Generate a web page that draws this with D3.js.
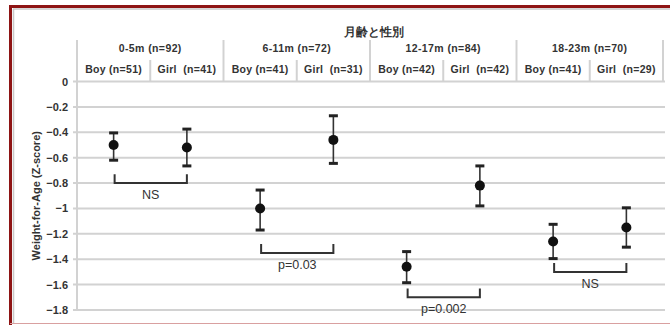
<!DOCTYPE html>
<html><head><meta charset="utf-8">
<script src="https://cdn.jsdelivr.net/npm/d3@7"></script>
<style>
html,body{margin:0;padding:0;background:#fff;}
svg{display:block;}
text{font-family:"Liberation Sans",Arial,sans-serif;}
</style></head>
<body>
<svg id="c" width="670" height="325"></svg>
<script>
const title = "月齢と性別";
const groups = ["0-5m (n=92)", "6-11m (n=72)", "12-17m (n=84)", "18-23m (n=70)"];
const subLabels = [["Boy (n=51)", "Girl  (n=41)"], ["Boy (n=41)", "Girl  (n=31)"], ["Boy (n=42)", "Girl  (n=42)"], ["Boy (n=41)", "Girl  (n=29)"]];
const sexes = ["Boy", "Girl"];
const means = [[-0.50, -0.52], [-1.00, -0.46], [-1.46, -0.82], [-1.26, -1.15]];
const lowers = [[-0.62, -0.665], [-1.17, -0.645], [-1.585, -0.98], [-1.395, -1.305]];
const uppers = [[-0.405, -0.375], [-0.855, -0.27], [-1.34, -0.665], [-1.125, -0.995]];
const bracketBase = [-0.80, -1.35, -1.70, -1.50];
const bracketTop = [-0.73, -1.28, -1.63, -1.43];
const bracketLabelY = [-0.89, -1.44, -1.79, -1.59];
const bracketLabels = ["NS", "p=0.03", "p=0.002", "NS"];
const yTicks = [0, -0.2, -0.4, -0.6, -0.8, -1, -1.2, -1.4, -1.6, -1.8];
const yTitle = "Weight-for-Age (Z-score)";

const svg = d3.select("#c");
const L = 77, R = 663, T = 81.5, B = 310;

const x = d3.scaleBand().domain(groups).range([L, R]).paddingInner(0).paddingOuter(0);
const xs = d3.scaleBand().domain(sexes).range([0, x.bandwidth()]);
const y = d3.scaleLinear().domain([-1.8, 0]).range([B, T]);

// frame
svg.append("line").attr("x1", 13).attr("x2", 670).attr("y1", 9).attr("y2", 9).attr("stroke", "#c8c8c8").attr("stroke-width", 1.5);
svg.append("line").attr("x1", 13.5).attr("x2", 13.5).attr("y1", 9).attr("y2", 323).attr("stroke", "#c8c8c8").attr("stroke-width", 1.5);
svg.append("line").attr("x1", 9).attr("x2", 670).attr("y1", 6.5).attr("y2", 6.5).attr("stroke", "#8e1414").attr("stroke-width", 3);
svg.append("line").attr("x1", 10.5).attr("x2", 10.5).attr("y1", 5).attr("y2", 325).attr("stroke", "#8e1414").attr("stroke-width", 3);
svg.append("line").attr("x1", 10).attr("x2", 670).attr("y1", 323.5).attr("y2", 323.5).attr("stroke", "#d9a0a0").attr("stroke-width", 1);

// gridlines
svg.append("g").selectAll("line").data(yTicks).join("line")
  .attr("x1", L - 4).attr("x2", R + 2)
  .attr("y1", d => y(d)).attr("y2", d => y(d))
  .attr("stroke", "#d2d2d2").attr("stroke-width", 2);

// y axis
const yAxis = svg.append("g").attr("transform", `translate(${L},0)`)
  .call(d3.axisLeft(y).tickValues(yTicks).tickSize(0).tickPadding(9).tickFormat(d => d3.format("")(d)));
yAxis.select(".domain").remove();
yAxis.selectAll("text").attr("font-size", 11).attr("font-weight", "bold").attr("fill", "#333");
svg.append("line").attr("x1", L).attr("x2", L).attr("y1", 40).attr("y2", B)
  .attr("stroke", "#d2d2d2").attr("stroke-width", 2);

// y title
svg.append("text").attr("transform", `translate(40,${(T + B) / 2}) rotate(-90)`)
  .attr("text-anchor", "middle").attr("font-size", 11).attr("font-weight", "bold").attr("fill", "#333")
  .text(yTitle);

// header
svg.append("text").attr("x", (L + R) / 2 + 4).attr("y", 36).attr("text-anchor", "middle")
  .attr("font-size", 11.5).attr("font-weight", "bold").attr("fill", "#333").text(title);
const hdr = svg.append("g");
hdr.selectAll("line.g").data(groups.concat(["end"])).join("line").attr("class", "g")
  .attr("x1", d => d === "end" ? R : x(d)).attr("x2", d => d === "end" ? R : x(d))
  .attr("y1", 40).attr("y2", T).attr("stroke", "#d2d2d2").attr("stroke-width", 2);
hdr.selectAll("text.g").data(groups).join("text").attr("class", "g")
  .attr("x", d => x(d) + x.bandwidth() / 2).attr("y", 52).attr("text-anchor", "middle")
  .attr("font-size", 10.5).attr("letter-spacing", 0.4).attr("font-weight", "bold").attr("fill", "#333").text(d => d);
groups.forEach((g, gi) => {
  hdr.append("line").attr("x1", x(g) + xs.bandwidth()).attr("x2", x(g) + xs.bandwidth())
    .attr("y1", 60).attr("y2", T).attr("stroke", "#d2d2d2").attr("stroke-width", 2);
  sexes.forEach((s, si) => {
    hdr.append("text").attr("x", x(g) + xs(s) + xs.bandwidth() / 2).attr("y", 73)
      .attr("text-anchor", "middle").attr("font-size", 10.5).attr("letter-spacing", 0.3).attr("font-weight", "bold")
      .attr("fill", "#333").style("white-space", "pre").text(subLabels[gi][si]);
  });
});

// points & error bars
const pts = [];
groups.forEach((g, gi) => sexes.forEach((s, si) => pts.push({
  cx: x(g) + xs(s) + xs.bandwidth() / 2, m: means[gi][si], lo: lowers[gi][si], hi: uppers[gi][si]
})));
const eb = svg.append("g");
eb.selectAll("line.v").data(pts).join("line").attr("class", "v")
  .attr("x1", d => d.cx).attr("x2", d => d.cx).attr("y1", d => y(d.lo)).attr("y2", d => y(d.hi))
  .attr("stroke", "#333").attr("stroke-width", 1.6);
eb.selectAll("line.lo").data(pts).join("line").attr("class", "lo")
  .attr("x1", d => d.cx - 4.5).attr("x2", d => d.cx + 4.5).attr("y1", d => y(d.lo)).attr("y2", d => y(d.lo))
  .attr("stroke", "#222").attr("stroke-width", 3);
eb.selectAll("line.hi").data(pts).join("line").attr("class", "hi")
  .attr("x1", d => d.cx - 4.5).attr("x2", d => d.cx + 4.5).attr("y1", d => y(d.hi)).attr("y2", d => y(d.hi))
  .attr("stroke", "#222").attr("stroke-width", 3);
eb.selectAll("circle").data(pts).join("circle")
  .attr("cx", d => d.cx).attr("cy", d => y(d.m)).attr("r", 5).attr("fill", "#111");

// brackets
groups.forEach((g, gi) => {
  const x1 = x(g) + xs.bandwidth() / 2 + 1, x2 = x(g) + xs.bandwidth() * 1.5;
  const path = d3.path();
  path.moveTo(x1, y(bracketTop[gi]));
  path.lineTo(x1, y(bracketBase[gi]));
  path.lineTo(x2, y(bracketBase[gi]));
  path.lineTo(x2, y(bracketTop[gi]));
  svg.append("path").attr("d", path.toString()).attr("fill", "none")
    .attr("stroke", "#333").attr("stroke-width", 2);
  svg.append("text").attr("x", (x1 + x2) / 2).attr("y", y(bracketLabelY[gi]))
    .attr("dy", "0.35em").attr("text-anchor", "middle").attr("font-size", 12.5)
    .attr("fill", "#333").text(bracketLabels[gi]);
});
</script>
</body></html>
